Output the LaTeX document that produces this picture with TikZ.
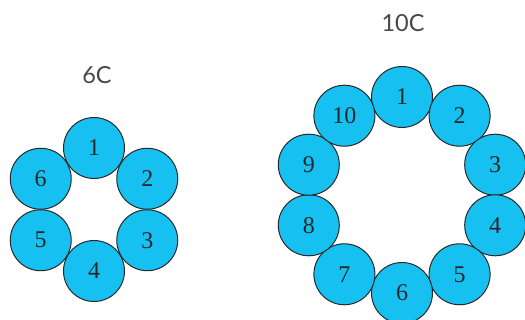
\documentclass[tikz,border=0pt]{standalone}
\usepackage{fontspec}
\setmainfont{Liberation Serif}
\newfontfamily\labelfont{Lato}
\usetikzlibrary{positioning, calc}
\definecolor{ballblue}{RGB}{22,192,240}
\definecolor{inkgray}{RGB}{40,40,40}
\tikzset{x=1pt, y=1pt,
ball/.style={circle, draw=inkgray, line width=1pt, fill=ballblue, minimum size=61pt, inner sep=0pt,
  font=\fontsize{24}{27}\selectfont, text=inkgray},
ringtitle/.style={font=\labelfont\fontsize{23.5}{26}\selectfont, text=inkgray!85},
}

\begin{document}
\begin{tikzpicture}
\useasboundingbox (0,0) rectangle (525,320);
    \coordinate (c6) at (94,110.5);
    \coordinate (c10) at (402,125);
    \node[ringtitle] (t6) at (97,245) {6C};
    \node[ringtitle] (t10) at (403,297) {10C};
% six ring
    \foreach \k in {1,...,6}
        \node[ball] (a\k) at ($(c6)+({90-60*(\k-1)}:61.5)$) {\k};
% ten ring
    \foreach \k in {1,...,10}
        \node[ball] (b\k) at ($(c10)+({90-36*(\k-1)}:98)$) {\k};
\end{tikzpicture}
\end{document}
